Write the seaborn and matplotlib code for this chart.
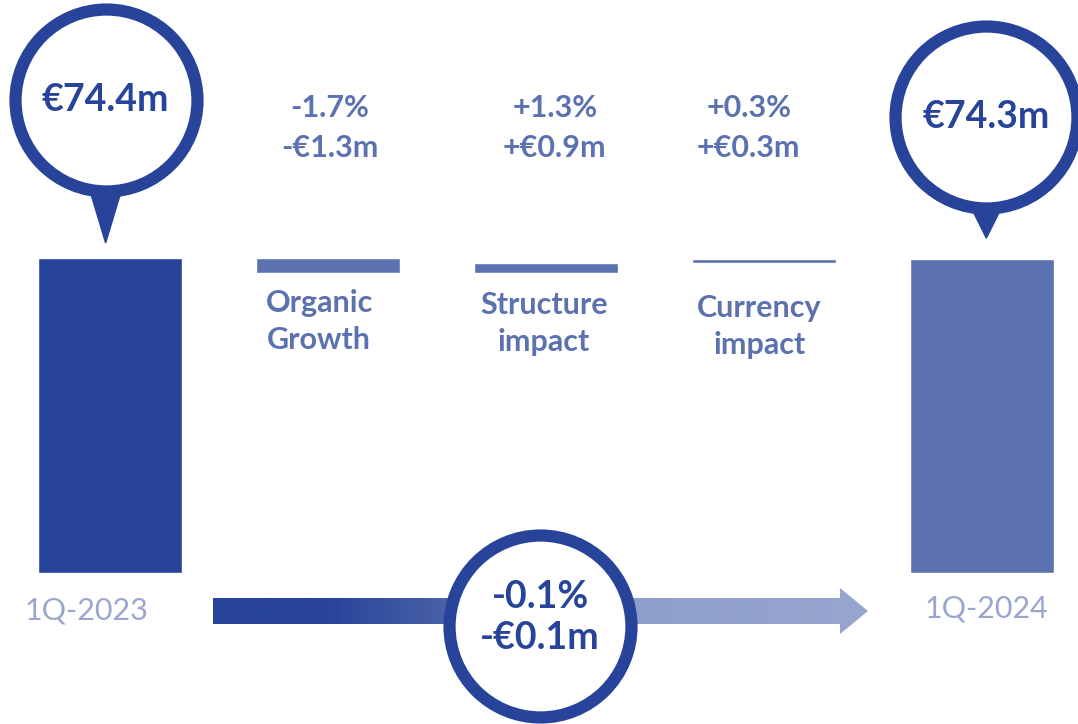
import numpy as np
import matplotlib
matplotlib.use("Agg")
import matplotlib.pyplot as plt
import seaborn as sns
from matplotlib.patches import Polygon
from matplotlib.colors import LinearSegmentedColormap

sns.set_theme(style="white")
plt.rcParams['font.family'] = ['Lato', 'DejaVu Sans']

# ---- data ----
categories = ["1Q-2023", "Organic\nGrowth", "Structure\nimpact", "Currency\nimpact", "1Q-2024"]
start_value = 74.4
end_value = 74.3
deltas = [-1.3, 0.9, 0.3]
delta_pct = ["-1.7%", "+1.3%", "+0.3%"]
delta_eur = ["-€1.3m", "+€0.9m", "+€0.3m"]
total_labels = ["€74.4m", "€74.3m"]
change_pct = "-0.1%"
change_eur = "-€0.1m"

DARK = "#27449A"
MID = "#5B71B0"
LIGHT = "#9AA6CE"

# axis scale (truncated value axis)
BASE = 47.0
PX_PER_UNIT = 11.5
Y_TOP = 74.4 + 258 / PX_PER_UNIT
Y_BOT = Y_TOP - 724 / PX_PER_UNIT

fig = plt.figure(figsize=(10.78, 7.24), dpi=100)
ax = fig.add_axes([0, 0, 1, 1])
ax.set_xlim(-110 / 218, (1078 - 110) / 218)
ax.set_ylim(Y_BOT, Y_TOP)
ax.axis("off")

x = np.arange(len(categories))
W = 0.665

# totals
ax.bar(x[0], start_value - BASE, bottom=BASE, width=W, color=DARK)
ax.bar(x[4], end_value - BASE, bottom=BASE, width=W, color=MID)

# floating deltas
level = start_value
for i, d in enumerate(deltas):
    lo = min(level, level + d)
    ax.bar(x[i + 1], abs(d), bottom=lo, width=W, color=MID)
    level += d

def px2y(p):
    return Y_TOP - p / PX_PER_UNIT

# bubbles over totals
def bubble(xc, yc, tip_y, label):
    ax.scatter([xc], [yc], s=131 ** 2, facecolor="white", edgecolor=DARK,
               linewidth=8.8, zorder=4)
    hw = 16.5 / 218
    tri = Polygon([[xc - hw, yc - 88 / PX_PER_UNIT], [xc + hw, yc - 88 / PX_PER_UNIT],
                   [xc, tip_y]], closed=True, color=DARK, zorder=3)
    ax.add_patch(tri)
    ax.text(xc, yc, label, ha="center", va="center", fontsize=27,
            fontweight="bold", color=DARK, zorder=5)

bubble(x[0] - 0.02, px2y(100), start_value + 15 / PX_PER_UNIT, total_labels[0])
bubble(x[4] + 0.02, px2y(117), end_value + 21 / PX_PER_UNIT, total_labels[1])

# delta labels
for i in range(3):
    xc = x[i + 1] + [0.01, 0.04, -0.07][i]
    ax.text(xc, px2y(108), delta_pct[i], ha="center", va="center", fontsize=22,
            fontweight="bold", color=MID)
    ax.text(xc, px2y(148), delta_eur[i], ha="center", va="center", fontsize=22,
            fontweight="bold", color=MID)

# category labels under deltas
for i in range(3):
    lines = categories[i + 1].split("\n")
    xc = x[i + 1] + [-0.04, -0.01, -0.02][i]
    off = [0, 2, 5][i]
    ax.text(xc, px2y(303 + off), lines[0], ha="center", va="center", fontsize=22,
            fontweight="bold", color=MID)
    ax.text(xc, px2y(340 + off), lines[1], ha="center", va="center", fontsize=22,
            fontweight="bold", color=MID)

# period labels
ax.text(x[0] - 0.11, px2y(611), categories[0], ha="center", va="center",
        fontsize=22, fontweight="normal", color=LIGHT)
ax.text(x[4] + 0.02, px2y(608), categories[4], ha="center", va="center",
        fontsize=22, fontweight="normal", color=LIGHT)

# gradient arrow
x0 = (213 - 110) / 218
x_head = (840 - 110) / 218
x_tip = (868 - 110) / 218
yc = px2y(611)
bh = 13 / PX_PER_UNIT
hh = 23 / PX_PER_UNIT
arrow = Polygon([[x0, yc - bh], [x_head, yc - bh], [x_head, yc - hh], [x_tip, yc],
                 [x_head, yc + hh], [x_head, yc + bh], [x0, yc + bh]],
                closed=True, facecolor="none", edgecolor="none")
ax.add_patch(arrow)
cmap = LinearSegmentedColormap.from_list(
    "g", [(0, DARK), (0.17, DARK), (0.36, "#4A62A8"), (0.45, "#7385BC"),
          (0.65, "#8E9FCB"), (1.0, "#97A6CF")])
grad = np.linspace(0, 1, 400).reshape(1, -1)
im = ax.imshow(grad, cmap=cmap, aspect="auto",
               extent=[x0, x_tip, yc - hh, yc + hh], zorder=2,
               interpolation="bilinear")
im.set_clip_path(arrow)

# bottom bubble
xb = (540 - 110) / 218
yb = px2y(626)
ax.scatter([xb], [yb], s=131 ** 2, facecolor="white", edgecolor=DARK,
           linewidth=8.8, zorder=4)
ax.text(xb, px2y(597), change_pct, ha="center", va="center", fontsize=27,
        fontweight="bold", color=DARK, zorder=5)
ax.text(xb, px2y(638), change_eur, ha="center", va="center", fontsize=27,
        fontweight="bold", color=DARK, zorder=5)

ax.set_xlim(-110 / 218, (1078 - 110) / 218)
ax.set_ylim(Y_BOT, Y_TOP)
fig.savefig("out.png", dpi=100, facecolor="white")
